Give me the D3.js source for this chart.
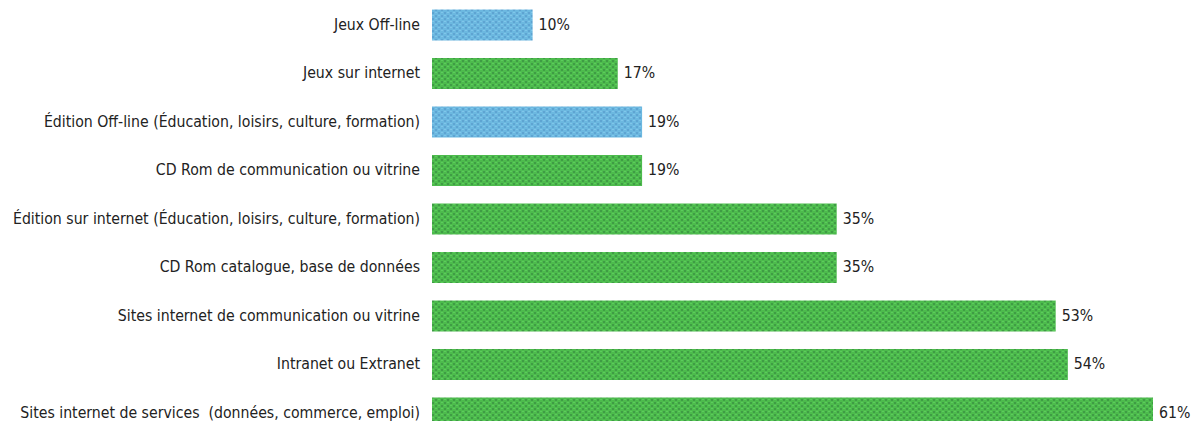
<!DOCTYPE html>
<html>
<head>
<meta charset="utf-8">
<script src="https://cdn.jsdelivr.net/npm/d3@7"></script>
<style>
  html, body { margin: 0; padding: 0; background: #fff; }
  svg { display: block; }
  text { font-family: "Liberation Sans Narrow", "DejaVu Sans Condensed", sans-serif; fill: #222; }
</style>
</head>
<body>
<svg id="chart" width="1192" height="421"></svg>
<script>
const categories = [
  "Jeux Off-line",
  "Jeux sur internet",
  "Édition Off-line (Éducation, loisirs, culture, formation)",
  "CD Rom de communication ou vitrine",
  "Édition sur internet (Éducation, loisirs, culture, formation)",
  "CD Rom catalogue, base de données",
  "Sites internet de communication ou vitrine",
  "Intranet ou Extranet",
  "Sites internet de services  (données, commerce, emploi)"
];
const values = [10, 17, 19, 19, 35, 35, 53, 54, 61];
const groups = ["offline", "internet", "offline", "internet", "internet", "internet", "internet", "internet", "internet"];
const valueLabels = ["10%", "17%", "19%", "19%", "35%", "35%", "53%", "54%", "61%"];
const axisMin = 1.73;

const svg = d3.select("#chart");

const x = d3.scaleLinear().domain([axisMin, 61]).range([432, 1153]);
const y = d3.scaleBand().domain(categories).range([0, 438]).paddingInner(0.361).paddingOuter(0.196);

const defs = svg.append("defs");
function makePattern(id, base, dot, light) {
  const p = defs.append("pattern").attr("id", id).attr("patternUnits", "userSpaceOnUse")
    .attr("width", 6).attr("height", 6);
  p.append("rect").attr("width", 6).attr("height", 6).attr("fill", base);
  p.append("rect").attr("x", 0).attr("y", 0).attr("width", 2).attr("height", 2).attr("fill", dot);
  p.append("rect").attr("x", 3).attr("y", 3).attr("width", 2).attr("height", 2).attr("fill", dot);
  p.append("rect").attr("x", 3).attr("y", 0).attr("width", 2).attr("height", 1).attr("fill", light);
  p.append("rect").attr("x", 0).attr("y", 3).attr("width", 2).attr("height", 1).attr("fill", light);
}
makePattern("pBlue", "#6cb8e0", "#5ea4d2", "#80c6ea");
makePattern("pGreen", "#4dbb4d", "#3f9c45", "#5ccc5c");
const color = d => d === "offline" ? "url(#pBlue)" : "url(#pGreen)";

const rows = svg.append("g").selectAll("g").data(categories).join("g");

rows.append("rect")
  .attr("x", x(axisMin))
  .attr("y", d => y(d))
  .attr("width", (d, i) => x(values[i]) - x(axisMin))
  .attr("height", y.bandwidth())
  .attr("fill", (d, i) => color(groups[i]));

rows.append("text")
  .attr("x", x(axisMin) - 12)
  .attr("y", d => y(d) + y.bandwidth() / 2)
  .attr("dy", "0.29em")
  .attr("text-anchor", "end")
  .attr("font-size", 15.7)
  .style("white-space", "pre")
  .text(d => d);

rows.append("text")
  .attr("x", (d, i) => x(values[i]) + 6)
  .attr("y", d => y(d) + y.bandwidth() / 2)
  .attr("dy", "0.29em")
  .attr("text-anchor", "start")
  .attr("font-size", 15.7)
  .text((d, i) => valueLabels[i]);
</script>
</body>
</html>
